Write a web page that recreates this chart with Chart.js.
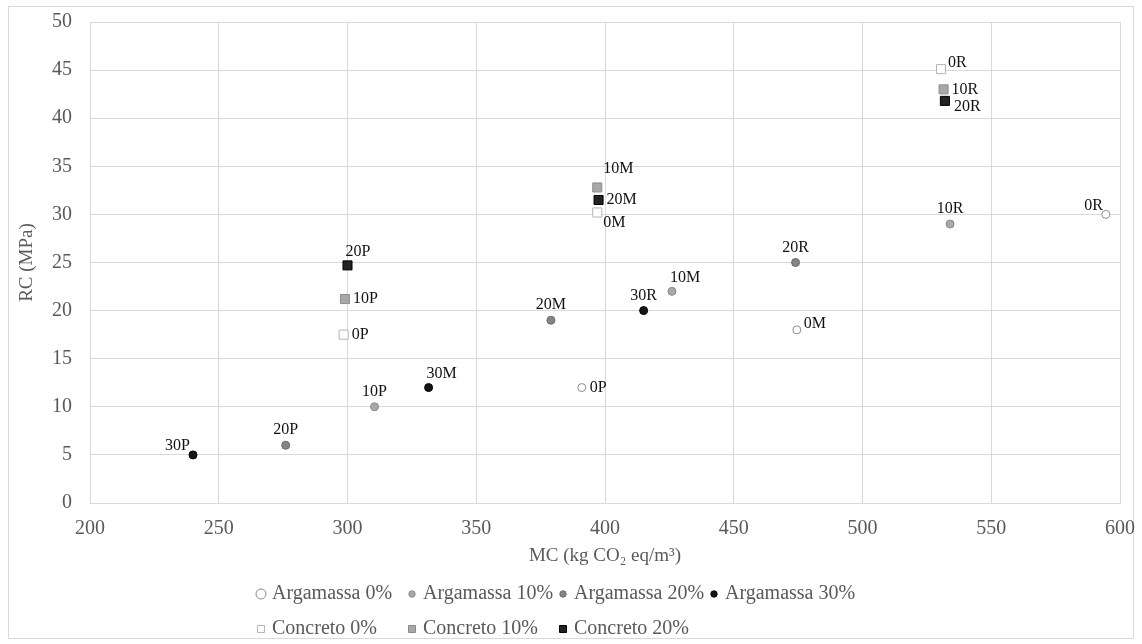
<!DOCTYPE html>
<html>
<head>
<meta charset="utf-8">
<script src="https://cdn.jsdelivr.net/npm/chart.js@4/dist/chart.umd.min.js"></script>
<style>
  body { margin: 0; background: #fff; }
  canvas { display: block; }
</style>
</head>
<body>
<canvas id="myChart" width="1142" height="644"></canvas>
<script>
// series names, as in the legend
const seriesNames = ['Argamassa 0%', 'Argamassa 10%', 'Argamassa 20%', 'Argamassa 30%',
  'Concreto 0%', 'Concreto 10%', 'Concreto 20%'];

// MC (kg CO2 eq/m3) and RC (MPa)
const arg0MC = [391, 474.5, 594.5];
const arg0RC = [12, 18, 30];
const arg0Tags = ['0P', '0M', '0R'];

const arg10MC = [310.5, 426, 534];
const arg10RC = [10, 22, 29];
const arg10Tags = ['10P', '10M', '10R'];

const arg20MC = [276, 379, 474];
const arg20RC = [6, 19, 25];
const arg20Tags = ['20P', '20M', '20R'];

const arg30MC = [240, 331.5, 415];
const arg30RC = [5, 12, 20];
const arg30Tags = ['30P', '30M', '30R'];

const con0MC = [298.5, 397, 530.5];
const con0RC = [17.5, 30.2, 45.1];
const con0Tags = ['0P', '0M', '0R'];

const con10MC = [299, 397, 531.5];
const con10RC = [21.2, 32.8, 43];
const con10Tags = ['10P', '10M', '10R'];

const con20MC = [300, 397.5, 532];
const con20RC = [24.7, 31.5, 41.8];
const con20Tags = ['20P', '20M', '20R'];

const xTicks = [200, 250, 300, 350, 400, 450, 500, 550, 600];
const yTicks = [0, 5, 10, 15, 20, 25, 30, 35, 40, 45, 50];

const FONT = '"Liberation Serif", "Times New Roman", serif';

function toPoints(xs, ys) {
  return xs.map((x, i) => ({ x: x, y: ys[i] }));
}

// where each tag sits next to its marker
const tagSpots = [
  ['r', 'ru', 'tl'],
  ['t', 'tr', 't'],
  ['t', 't', 't'],
  ['tl', 'tr', 't'],
  ['r', 'br', 'ru'],
  ['r', 'tt', 'r'],
  ['tr', 'r', 'rd']
];
const spotOffsets = {
  r:  { align: 'left',   dx: 8,  dy: 0 },
  ru: { align: 'left',   dx: 7,  dy: -6 },
  rd: { align: 'left',   dx: 9,  dy: 6 },
  t:  { align: 'center', dx: 0,  dy: -15 },
  tr: { align: 'left',   dx: -2, dy: -14 },
  tt: { align: 'left',   dx: 6,  dy: -19 },
  tl: { align: 'right',  dx: -3, dy: -9 },
  br: { align: 'left',   dx: 6,  dy: 10 }
};
const allTags = [arg0Tags, arg10Tags, arg20Tags, arg30Tags, con0Tags, con10Tags, con20Tags];

const styles = [
  { shape: 'circle', fill: '#ffffff', line: '#8a8a8a', r: 4 },
  { shape: 'circle', fill: '#a8a8a8', line: '#8c8c8c', r: 4 },
  { shape: 'circle', fill: '#858585', line: '#6a6a6a', r: 4 },
  { shape: 'circle', fill: '#151515', line: '#000000', r: 4 },
  { shape: 'rect', fill: '#ffffff', line: '#b5b5b5', r: 6.4 },
  { shape: 'rect', fill: '#a8a8a8', line: '#8c8c8c', r: 6.4 },
  { shape: 'rect', fill: '#222222', line: '#000000', r: 6.4 }
];

const seriesData = [
  toPoints(arg0MC, arg0RC), toPoints(arg10MC, arg10RC), toPoints(arg20MC, arg20RC),
  toPoints(arg30MC, arg30RC), toPoints(con0MC, con0RC), toPoints(con10MC, con10RC),
  toPoints(con20MC, con20RC)
];

const datasets = seriesNames.map((name, i) => ({
  label: name,
  data: seriesData[i],
  pointStyle: styles[i].shape,
  pointRadius: styles[i].r,
  pointHoverRadius: styles[i].r,
  pointBackgroundColor: styles[i].fill,
  pointBorderColor: styles[i].line,
  pointBorderWidth: 1,
  showLine: false
}));

const framePlugin = {
  id: 'frame',
  beforeDraw(chart) {
    const ctx = chart.ctx;
    ctx.save();
    ctx.fillStyle = '#ffffff';
    ctx.fillRect(0, 0, chart.width, chart.height);
    ctx.strokeStyle = '#d9d9d9';
    ctx.lineWidth = 1;
    ctx.strokeRect(8.5, 6.5, chart.width - 17, chart.height - 12);
    ctx.restore();
  }
};

const tagPlugin = {
  id: 'tags',
  afterDatasetsDraw(chart) {
    const ctx = chart.ctx;
    ctx.save();
    ctx.font = '16px ' + FONT;
    ctx.fillStyle = '#111111';
    ctx.textBaseline = 'middle';
    chart.data.datasets.forEach((ds, i) => {
      const meta = chart.getDatasetMeta(i);
      meta.data.forEach((pt, j) => {
        const o = spotOffsets[tagSpots[i][j]];
        ctx.textAlign = o.align;
        ctx.fillText(allTags[i][j], pt.x + o.dx, pt.y + o.dy);
      });
    });
    ctx.restore();
  }
};

// legend in fixed columns, two rows
const legendPlugin = {
  id: 'gridLegend',
  afterDraw(chart) {
    const ctx = chart.ctx;
    const colW = 151;
    const startX = chart.width / 2 - 2 * colW - 8;
    const rowsY = [594, 629];
    ctx.save();
    ctx.font = '20px ' + FONT;
    ctx.textBaseline = 'middle';
    ctx.textAlign = 'left';
    chart.data.datasets.forEach((ds, i) => {
      const row = i < 4 ? 0 : 1;
      const col = i < 4 ? i : i - 4;
      const x = startX + col * colW;
      const y = rowsY[row];
      const st = styles[i];
      ctx.fillStyle = st.fill;
      ctx.strokeStyle = st.line;
      ctx.lineWidth = 1;
      ctx.beginPath();
      if (i === 0) {
        ctx.arc(x, y, 5, 0, Math.PI * 2);
      } else if (st.shape === 'circle') {
        ctx.arc(x, y, 3.2, 0, Math.PI * 2);
      } else {
        ctx.rect(x - 3.5, y - 3.5, 7, 7);
      }
      ctx.fill();
      ctx.stroke();
      ctx.fillStyle = '#595959';
      ctx.fillText(ds.label, x + 11, y);
    });
    ctx.restore();
  }
};

const canvas = document.getElementById('myChart');
const ctx = canvas.getContext('2d');

new Chart(ctx, {
  type: 'scatter',
  data: { datasets: datasets },
  options: {
    responsive: false,
    animation: false,
    layout: { padding: { left: 8, top: 22, right: 22, bottom: 77 } },
    plugins: {
      legend: { display: false },
      tooltip: { enabled: false }
    },
    scales: {
      x: {
        type: 'linear',
        min: 200,
        max: 600,
        afterBuildTicks: (s) => { s.ticks = xTicks.map(v => ({ value: v })); },
        afterFit: (s) => {
          s.height = 64;
          s.paddingLeft = 0;
          s.paddingRight = 0;
        },
        grid: { color: '#d9d9d9', drawTicks: false },
        border: { color: '#d9d9d9' },
        ticks: { padding: 14, color: '#595959', font: { family: FONT, size: 20 } },
        title: {
          display: true,
          text: 'MC (kg CO\u2082 eq/m\u00b3)',
          color: '#595959',
          padding: 0,
          font: { family: FONT, size: 19 }
        }
      },
      y: {
        min: 0,
        max: 50,
        afterBuildTicks: (s) => { s.ticks = yTicks.map(v => ({ value: v })); },
        afterFit: (s) => {
          s.width = 82;
          s.paddingTop = 0;
          s.paddingBottom = 0;
        },
        grid: { color: '#d9d9d9', drawTicks: false },
        border: { color: '#d9d9d9' },
        ticks: { padding: 18, color: '#595959', font: { family: FONT, size: 20 } },
        title: {
          display: true,
          text: 'RC (MPa)',
          color: '#595959',
          padding: { top: 8, bottom: 0 },
          font: { family: FONT, size: 19 }
        }
      }
    }
  },
  plugins: [framePlugin, tagPlugin, legendPlugin]
});
</script>
</body>
</html>
